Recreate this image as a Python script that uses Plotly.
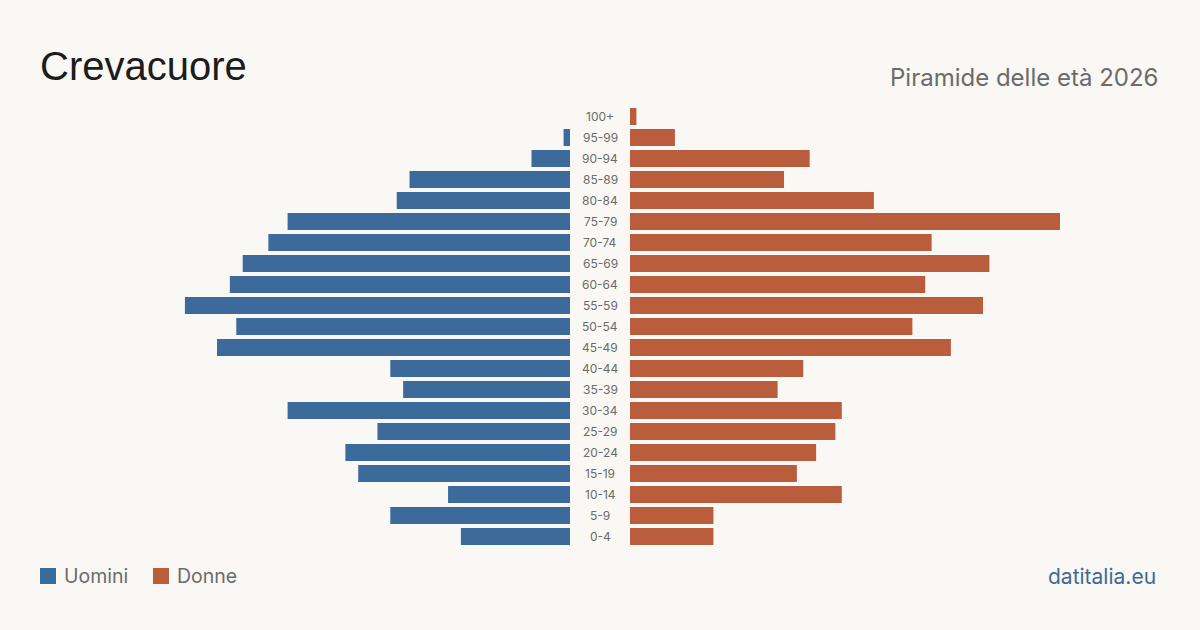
import plotly.graph_objects as go

# Data (top to bottom as displayed)
age_groups = ["100+", "95-99", "90-94", "85-89", "80-84", "75-79", "70-74", "65-69",
              "60-64", "55-59", "50-54", "45-49", "40-44", "35-39", "30-34", "25-29",
              "20-24", "15-19", "10-14", "5-9", "0-4"]
men = [0, 1, 6, 25, 27, 44, 47, 51, 53, 60, 52, 55, 28, 26, 44, 30, 35, 33, 19, 28, 17]
women = [1, 7, 28, 24, 38, 67, 47, 56, 46, 55, 44, 50, 27, 23, 33, 32, 29, 26, 33, 13, 13]

title = "Crevacuore"
subtitle = "Piramide delle età 2026"
legend_labels = ["Uomini", "Donne"]
source = "datitalia.eu"

BLUE = "#3c6a9a"
ORANGE = "#b95d3d"
BG = "#f9f8f4"
W, H = 1200, 630

vmax = max(max(men), max(women))
half_px = 570
bar_px = 430
rng = vmax * half_px / bar_px

fig = go.Figure()
fig.add_trace(go.Bar(y=age_groups, x=men, orientation="h", marker=dict(color=BLUE, line=dict(width=0)),
                     xaxis="x", yaxis="y", name=legend_labels[0], showlegend=False, hoverinfo="x+y"))
fig.add_trace(go.Bar(y=age_groups, x=women, orientation="h", marker=dict(color=ORANGE, line=dict(width=0)),
                     xaxis="x2", yaxis="y2", name=legend_labels[1], showlegend=False, hoverinfo="x+y"))

ytop = 106
ybot = 547
ydom = [(H - ybot) / H, (H - ytop) / H]

yax = dict(domain=ydom, type="category", categoryorder="array", categoryarray=age_groups,
           range=[len(age_groups) - 0.5, -0.5], showticklabels=False, showgrid=False,
           zeroline=False, showline=False, ticks="")

fig.update_layout(
    width=W, height=H,
    margin=dict(l=0, r=0, t=0, b=0),
    paper_bgcolor=BG, plot_bgcolor=BG,
    bargap=0.19,
    xaxis=dict(domain=[0, 570 / W], range=[rng, 0], showgrid=False, zeroline=False,
               showticklabels=False, showline=False, fixedrange=True),
    xaxis2=dict(domain=[630 / W, 1], range=[0, rng], showgrid=False, zeroline=False,
                showticklabels=False, showline=False, fixedrange=True),
    yaxis=dict(**yax, anchor="x"),
    yaxis2=dict(**yax, anchor="x2"),
    font=dict(family="Inter, Liberation Sans, sans-serif", color="#666666"),
)

annotations = []
for ag in age_groups:
    annotations.append(dict(x=0.5, xref="paper", y=ag, yref="y", text=ag, showarrow=False,
                            font=dict(size=12, color="#6b6b6b"), xanchor="center", yanchor="middle"))

annotations.append(dict(x=38 / W, y=1 - 66 / H, xref="paper", yref="paper", text=title, showarrow=False,
                        xanchor="left", yanchor="middle",
                        font=dict(size=40, color="#1c1c1c", family="Liberation Sans, Arial, sans-serif")))
annotations.append(dict(x=1160 / W, y=1 - 77 / H, xref="paper", yref="paper", text=subtitle, showarrow=False,
                        xanchor="right", yanchor="middle",
                        font=dict(size=24, color="#6b6b6b")))
annotations.append(dict(x=62 / W, y=1 - 576 / H, xref="paper", yref="paper", text=legend_labels[0],
                        showarrow=False, xanchor="left", yanchor="middle",
                        font=dict(size=19.5, color="#6b6b6b")))
annotations.append(dict(x=175 / W, y=1 - 576 / H, xref="paper", yref="paper", text=legend_labels[1],
                        showarrow=False, xanchor="left", yanchor="middle",
                        font=dict(size=19.5, color="#6b6b6b")))
annotations.append(dict(x=1158 / W, y=1 - 576 / H, xref="paper", yref="paper", text=source,
                        showarrow=False, xanchor="right", yanchor="middle",
                        font=dict(size=21, color=BLUE)))

shapes = [
    dict(type="rect", xref="paper", yref="paper", x0=40 / W, x1=56 / W, y0=1 - 584 / H, y1=1 - 568 / H,
         fillcolor=BLUE, line=dict(width=0)),
    dict(type="rect", xref="paper", yref="paper", x0=153 / W, x1=169 / W, y0=1 - 584 / H, y1=1 - 568 / H,
         fillcolor=ORANGE, line=dict(width=0)),
]

fig.update_layout(annotations=annotations, shapes=shapes)
fig.write_html("out.html", config={"displayModeBar": False})
